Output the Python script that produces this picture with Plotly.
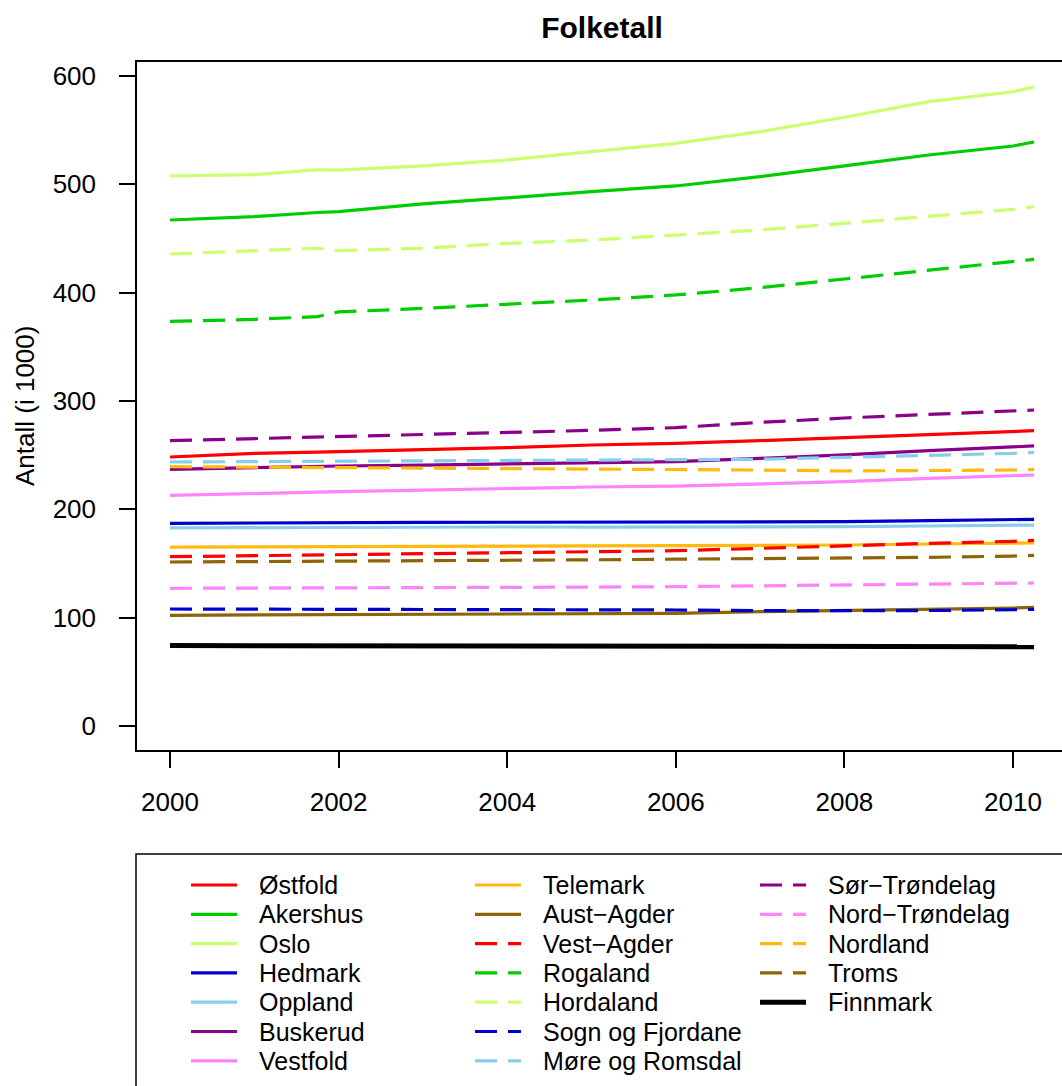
import plotly.graph_objects as go

# time points (year, with one extra point where the county border changed)
years = [2000, 2001, 2001.75, 2002, 2003, 2004, 2005, 2006, 2007, 2008, 2009, 2010, 2010.25]

fylker = ["Østfold", "Akershus", "Oslo", "Hedmark", "Oppland", "Buskerud", "Vestfold",
          "Telemark", "Aust\u2212Agder", "Vest\u2212Agder", "Rogaland", "Hordaland",
          "Sogn og Fjordane", "Møre og Romsdal", "Sør\u2212Trøndelag", "Nord\u2212Trøndelag",
          "Nordland", "Troms", "Finnmark"]

ostfold = [248.3, 251.7, 252.8, 253.2, 255.4, 256.9, 259.4, 260.9, 263.4, 266.2, 269.2, 271.7, 272.6]
akershus = [467.1, 470.2, 474.0, 474.8, 481.9, 487.7, 493.2, 498.5, 507.1, 517.0, 527.1, 535.4, 539.1]
oslo = [507.7, 508.9, 513.5, 513.2, 517.0, 522.5, 530.2, 537.9, 548.6, 561.9, 576.3, 585.5, 590.0]
hedmark = [187.1, 187.6, 187.8, 187.8, 188.0, 188.1, 188.1, 188.2, 188.3, 188.6, 189.5, 190.2, 190.8]
oppland = [182.8, 183.2, 183.4, 183.5, 183.7, 183.7, 183.6, 183.6, 183.7, 184.0, 184.6, 185.2, 185.5]
buskerud = [236.9, 238.8, 239.7, 240.0, 240.9, 241.8, 242.8, 244.0, 247.1, 250.2, 254.2, 257.2, 258.5]
vestfold = [212.9, 214.8, 215.9, 216.3, 217.8, 219.4, 220.6, 221.5, 223.4, 225.5, 228.6, 230.8, 231.7]
telemark = [165.2, 165.6, 165.8, 165.9, 166.0, 166.1, 166.2, 166.3, 166.8, 167.1, 168.0, 168.6, 169.0]
aust_agder = [102.2, 102.5, 102.7, 102.8, 103.1, 103.4, 103.7, 104.0, 105.5, 106.5, 107.4, 108.9, 109.5]
vest_agder = [156.3, 157.2, 157.9, 158.1, 159.0, 160.0, 160.9, 161.8, 164.0, 166.5, 168.6, 170.5, 171.4]
rogaland = [373.5, 375.4, 377.9, 382.2, 385.5, 389.2, 393.2, 397.9, 404.6, 412.6, 420.9, 428.6, 430.8]
hordaland = [435.7, 438.5, 441.0, 438.8, 441.0, 445.5, 448.6, 453.2, 457.9, 464.0, 470.2, 476.9, 479.4]
sogn = [108.0, 107.9, 107.8, 107.8, 107.7, 107.6, 107.4, 107.1, 106.5, 106.2, 106.6, 107.3, 107.7]
more = [243.7, 244.0, 244.2, 244.3, 244.6, 244.9, 245.2, 245.2, 246.2, 248.0, 249.5, 251.7, 252.6]
sor_trondelag = [263.4, 265.2, 266.6, 267.1, 268.9, 270.8, 272.9, 275.4, 280.3, 284.3, 287.7, 290.5, 291.7]
nord_trondelag = [127.1, 127.2, 127.3, 127.3, 127.5, 127.8, 128.2, 128.6, 129.4, 130.2, 130.9, 131.7, 132.0]
nordland = [239.4, 239.0, 238.7, 238.6, 238.2, 237.9, 237.4, 236.8, 236.3, 235.4, 235.7, 236.3, 236.9]
troms = [151.4, 151.7, 151.9, 152.0, 152.4, 152.9, 153.4, 154.0, 154.4, 154.8, 155.7, 156.9, 157.5]
finnmark = [74.2, 74.1, 74.0, 74.0, 73.8, 73.5, 73.3, 73.1, 72.9, 72.8, 72.9, 73.0, 73.2]

serier = [ostfold, akershus, oslo, hedmark, oppland, buskerud, vestfold, telemark, aust_agder,
          vest_agder, rogaland, hordaland, sogn, more, sor_trondelag, nord_trondelag,
          nordland, troms, finnmark]

farger = ["#FF0000", "#00CD00", "#CAFF70", "#0000CD", "#87CEEB", "#8B008B", "#FF83FA",
          "#FFB90F", "#8B6508"]
farger = farger + farger[:9] + ["#000000"]
streker = ["solid"] * 9 + ["22px,11px"] * 9 + ["solid"]
bredder = [3.2] * 18 + [5]

FONT = "Liberation Sans, Arial, Helvetica, sans-serif"
W, H = 1062, 1086
L, R, T, B = 137, 0, 62, 336
PW, PH = W - L - R, H - T - B


def px(x):
    return (x - L) / PW


def py(y):
    return (H - B - y) / PH


fig = go.Figure()
for navn, verdier, farge, strek, bredde in zip(fylker, serier, farger, streker, bredder):
    fig.add_trace(go.Scatter(x=years, y=verdier, mode="lines", name=navn, showlegend=False,
                             line=dict(color=farge, dash=strek, width=bredde)))

# legend drawn by hand, column-major like base R
shapes = [dict(type="rect", xref="paper", yref="paper", x0=px(136), x1=px(1075),
               y0=py(854), y1=py(1110), line=dict(color="black", width=1.5), layer="above")]
annotations = []
kol_x = [191, 475, 760]
rad_y0, rad_dy = 885, 29.3
for i, navn in enumerate(fylker):
    kol, rad = divmod(i, 7)
    x0 = kol_x[kol]
    yy = rad_y0 + rad * rad_dy
    shapes.append(dict(type="line", xref="paper", yref="paper", x0=px(x0), x1=px(x0 + 46),
                       y0=py(yy), y1=py(yy),
                       line=dict(color=farger[i], width=bredder[i], dash=streker[i])))
    annotations.append(dict(xref="paper", yref="paper", x=px(x0 + 66), y=py(yy), text=navn,
                            showarrow=False, xanchor="left", yanchor="middle",
                            font=dict(family=FONT, size=25, color="black")))

annotations.append(dict(xref="paper", yref="paper", x=px(25), y=0.5, text="Antall (i 1000)",
                        textangle=-90, showarrow=False, xanchor="center", yanchor="middle",
                        font=dict(family=FONT, size=26, color="black")))

fig.update_layout(
    width=W, height=H,
    margin=dict(l=L, r=R, t=T, b=B),
    paper_bgcolor="white", plot_bgcolor="white",
    title=dict(text="<b>Folketall</b>", x=602 / W, xanchor="center", xref="container",
               y=1 - 27 / H, yanchor="middle", yref="container",
               font=dict(family=FONT, size=30, color="black")),
    shapes=shapes,
    annotations=annotations,
    showlegend=False,
)
fig.update_xaxes(range=[2000 - 33 / 84.3, 2000 + (W - 170) / 84.3],
                 tickvals=[2000, 2002, 2004, 2006, 2008, 2010],
                 ticks="outside", ticklen=16, tickwidth=1.5, tickcolor="black",
                 showline=True, mirror=True, linecolor="black", linewidth=1.5,
                 showgrid=False, zeroline=False, ticklabelstandoff=12,
                 tickfont=dict(family=FONT, size=26, color="black"))
fig.update_yaxes(range=[-(750 - 726) / 1.0833, (726 - 62) / 1.0833],
                 tickvals=[0, 100, 200, 300, 400, 500, 600],
                 ticks="outside", ticklen=16, tickwidth=1.5, tickcolor="black",
                 showline=True, mirror=False, linecolor="black", linewidth=1.5,
                 showgrid=False, zeroline=False, ticklabelstandoff=18,
                 tickfont=dict(family=FONT, size=26, color="black"))

# the page has a default 8px body margin; remove it so the figure sits at (0, 0)
fig.write_html("out.html", config={"displayModeBar": False},
               post_script="document.body.style.margin='0';")
